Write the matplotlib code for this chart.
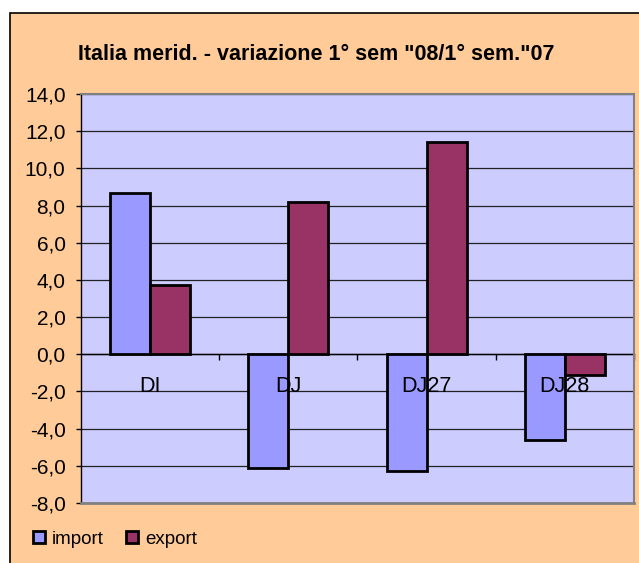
import matplotlib
matplotlib.use("Agg")
import matplotlib.pyplot as plt
from matplotlib.patches import Rectangle
from matplotlib.ticker import FuncFormatter, FixedLocator
import matplotlib.transforms as mtransforms
import numpy as np

plt.rcParams['font.family'] = ['Liberation Sans', 'DejaVu Sans']

categories = ["DI", "DJ", "DJ27", "DJ28"]
import_vals = [8.7, -6.1, -6.3, -4.6]
export_vals = [3.7, 8.2, 11.4, -1.1]
series_names = ["import", "export"]
yticks = np.arange(-8, 14.01, 2)
title = 'Italia merid. - variazione 1° sem "08/1° sem."07'

W, H = 639, 563
fig = plt.figure(figsize=(W / 100, H / 100), dpi=100)
fig.patch.set_facecolor("white")

# chart area box
fig.patches.append(Rectangle((10 / W, -0.05), 1.1, (H - 13) / H + 0.05,
                             transform=fig.transFigure, facecolor="#FFCC99",
                             edgecolor="black", linewidth=1.2, zorder=-10))

left, right, top, bottom = 81, 634, 94, 503
ax = fig.add_axes([left / W, 1 - bottom / H, (right - left) / W, (bottom - top) / H])
ax.set_facecolor("#CCCCFF")

x = np.arange(len(categories))
bw = 0.29
ax.bar(x - bw / 2, import_vals, bw, color="#9999FF", edgecolor="black",
       linewidth=2, label=series_names[0], zorder=3)
ax.bar(x + bw / 2, export_vals, bw, color="#993366", edgecolor="black",
       linewidth=2, label=series_names[1], zorder=3)

ax.set_xlim(-0.5, len(categories) - 0.5)
ax.set_ylim(yticks[0], yticks[-1])
ax.set_yticks(yticks)
ax.yaxis.set_major_formatter(FuncFormatter(lambda v, p: f"{v:.1f}".replace(".", ",")))
ax.tick_params(axis="y", direction="out", length=3.6, width=1, labelsize=15, pad=7.5, colors="black")
ax.grid(axis="y", color="#222222", linewidth=0.9, zorder=1)
ax.set_axisbelow(True)

# x axis at zero
ax.spines["bottom"].set_position(("data", 0))
ax.spines["bottom"].set_color("black")
ax.spines["bottom"].set_linewidth(1)
ax.spines["bottom"].set_zorder(2)
ax.xaxis.set_major_locator(FixedLocator(np.arange(len(categories)) + 0.5))
ax.tick_params(axis="x", which="major", direction="out", length=4, width=1, labelbottom=False)

# category labels drawn above the bars, as in the original
off = mtransforms.offset_copy(ax.transData, fig=fig, x=0, y=-22, units="dots")
for xi, cat in zip(x, categories):
    ax.text(xi, 0, cat, transform=off, ha="center", va="top", fontsize=15.5, zorder=6)

for s in ["top", "right"]:
    ax.spines[s].set_color("#808080")
    ax.spines[s].set_linewidth(1.5)
ax.spines["left"].set_color("black")
ax.spines["left"].set_linewidth(1)
ax.plot([0, 1], [0, 0], transform=ax.transAxes, color="#808080", lw=2, clip_on=False, zorder=4)

fig.text(316 / W, 1 - 60 / H, title, ha="center", va="baseline", fontsize=15.5, fontweight="bold")

leg = fig.legend(loc="center left", bbox_to_anchor=(33 / W, 1 - 539 / H), ncol=2,
                 frameon=False, fontsize=13.5, handlelength=0.65, handleheight=0.65,
                 handletextpad=0.35, columnspacing=1.2, borderaxespad=0, borderpad=0)
for h in leg.legend_handles:
    h.set_linewidth(2)

fig.savefig("out.png", dpi=100)
